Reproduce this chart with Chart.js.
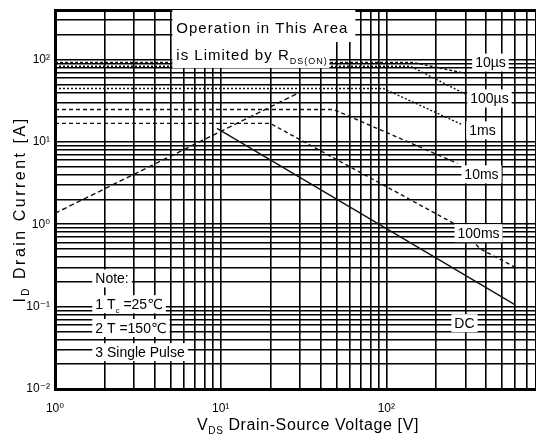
<!DOCTYPE html>
<html><head><meta charset="utf-8">
<script src="https://cdn.jsdelivr.net/npm/chart.js@4.4.1/dist/chart.umd.min.js"></script>
<style>html,body{margin:0;padding:0;background:#fff}#wrap{width:536px;height:444px;position:relative}</style>
</head><body><div id="wrap"><canvas id="c" width="536" height="444"></canvas></div>
<script>
// ---- data ----
const xTickValues = [1,2,3,4,5,6,7,8,9,10,20,30,40,50,60,70,80,90,100,200,300,400,500,600,700,800];
const yTickValues = [0.01,0.02,0.03,0.04,0.05,0.06,0.07,0.08,0.09,0.1,0.2,0.3,0.4,0.5,0.6,0.7,0.8,0.9,1,2,3,4,5,6,7,8,9,10,20,30,40,50,60,70,80,90,100,200,300,400];
const xTickLabels = {1:'10\u2070', 10:'10\u00B9', 100:'10\u00B2'};
const yTickLabels = {0.01:'10\u207B\u00B2', 0.1:'10\u207B\u00B9', 1:'10\u2070', 10:'10\u00B9', 100:'10\u00B2'};

const rdsOnV = [1, 30];          const rdsOnI = [1.36, 40];
const pulse10usV = [1, 146, 300];   const pulse10usI = [92, 92, 68];
const pulse100usV = [1, 140, 300];  const pulse100usI = [83, 83, 38];
const pulse1msV = [1, 96, 285];     const pulse1msI = [44.5, 44.5, 16.3];
const pulse10msV = [1, 48, 268];    const pulse10msI = [24.8, 24.8, 5.5];
const pulse100msV = [1, 19.9, 261, 370, 600]; const pulse100msI = [16.8, 16.8, 1.0, 0.5, 0.3];
const dcV = [9.5, 600];             const dcI = [14.6, 0.105];

const curveLabels = ['10\u00B5s','100\u00B5s','1ms','10ms','100ms','DC'];
const curveLabelV = [425, 419, 380, 375, 360, 296];
const curveLabelI = [92, 33.7, 13.8, 4.04, 0.78, 0.063];

const FONT = '"Liberation Sans", Arial, "DejaVu Sans", sans-serif';

function pts(xs, ys){ return xs.map((x,i)=>({x:x, y:ys[i]})); }
function ds(label, xs, ys, dash, width){
  return {label, data: pts(xs, ys), borderColor:'#111', borderWidth: width||1.4,
    borderDash: dash, pointRadius:0, fill:false, tension:0};
}

function richWidth(ctx, parts, size){
  let w = 0;
  for (const p of parts){ ctx.font = (p.sub ? Math.round(size*0.6) : size) + 'px ' + FONT; w += ctx.measureText(p.t).width; }
  return w;
}
function drawRich(ctx, parts, x, y, size, align){
  const w = richWidth(ctx, parts, size);
  let cx = align === 'center' ? x - w/2 : x;
  ctx.textBaseline = 'alphabetic';
  ctx.textAlign = 'left';
  for (const p of parts){
    ctx.font = (p.sub ? Math.round(size*0.6) : size) + 'px ' + FONT;
    ctx.fillText(p.t, cx, p.sub ? y + size*0.28 : y);
    cx += ctx.measureText(p.t).width;
  }
  return w;
}

const overlay = {
  id: 'overlay',
  afterDatasetsDraw(chart){
    const ctx = chart.ctx, xs = chart.scales.x, ys = chart.scales.y;
    ctx.save();
    ctx.fillStyle = '#000';
    // curve labels with white boxes
    ctx.font = '14px ' + FONT;
    curveLabels.forEach((t,i)=>{
      const px = xs.getPixelForValue(curveLabelV[i]), py = ys.getPixelForValue(curveLabelI[i]);
      const w = ctx.measureText(t).width;
      ctx.fillStyle = '#fff';
      ctx.fillRect(px - w/2 - 3, py - 9, w + 6, 18);
      ctx.fillStyle = '#000';
      ctx.textAlign = 'center'; ctx.textBaseline = 'middle';
      ctx.fillText(t, px, py + 1);
    });
    // "Operation in This Area / is Limited by RDS(ON)"
    const ox = xs.getPixelForValue(5.4), oTop = chart.chartArea.top;
    ctx.letterSpacing = '1px';
    ctx.fillStyle = '#fff';
    ctx.fillRect(ox - 4, oTop, 183, 32);
    ctx.fillRect(ox - 4, oTop + 32, 157, 26);
    ctx.fillStyle = '#000';
    drawRich(ctx, [{t:'Operation in This Area'}], ox, oTop + 23, 15, 'left');
    drawRich(ctx, [{t:'is Limited by R'},{t:'DS(ON)', sub:true}], ox, oTop + 50, 15, 'left');
    ctx.letterSpacing = '0px';
    // Note block
    const nx = xs.getPixelForValue(1.75);
    const notes = [
      [{t:'Note:'}],
      [{t:'1 T'},{t:'c',sub:true},{t:' =25\u2103'}],
      [{t:'2 T =150\u2103'}],
      [{t:'3 Single Pulse'}]
    ];
    const noteI = [0.22, 0.107, 0.055, 0.028];
    notes.forEach((parts,i)=>{
      const py = ys.getPixelForValue(noteI[i]);
      const w = richWidth(ctx, parts, 14);
      ctx.fillStyle = '#fff';
      ctx.fillRect(nx - 3, py - 9, w + 6, 18);
      ctx.fillStyle = '#000';
      drawRich(ctx, parts, nx, py + 5, 14, 'left');
    });
    ctx.restore();
  },
  afterDraw(chart){
    const ctx = chart.ctx, ca = chart.chartArea;
    ctx.save();
    ctx.fillStyle = '#000';
    ctx.letterSpacing = '2.5px';
    ctx.translate(ca.left - 36, (ca.top + ca.bottom)/2 + 10);
    ctx.rotate(-Math.PI/2);
    drawRich(ctx, [{t:'I'},{t:'D',sub:true},{t:' Drain Current [A]'}], 0, 6, 16, 'center');
    ctx.restore();
    ctx.save();
    ctx.fillStyle = '#000';
    ctx.letterSpacing = '0.6px';
    drawRich(ctx, [{t:'V'},{t:'DS',sub:true},{t:' Drain-Source Voltage [V]'}], 308, ca.bottom + 41, 16, 'center');
    ctx.restore();
  }
};

new Chart(document.getElementById('c'), {
  type: 'line',
  data: { datasets: [
    ds('RDS(on) limit', rdsOnV, rdsOnI, [5,3]),
    ds('10us', pulse10usV, pulse10usI, [3,2]),
    ds('100us', pulse100usV, pulse100usI, [2,2]),
    ds('1ms', pulse1msV, pulse1msI, [2,2]),
    ds('10ms', pulse10msV, pulse10msI, [4,3]),
    ds('100ms', pulse100msV, pulse100msI, [4,3]),
    ds('DC', dcV, dcI, [], 1.4)
  ]},
  plugins: [overlay],
  options: {
    responsive: false, animation: false, devicePixelRatio: 1,
    layout: { padding: { top: 10, right: 0, left: 0, bottom: 0 } },
    plugins: { legend: { display: false }, tooltip: { enabled: false } },
    scales: {
      x: {
        type: 'logarithmic', min: 1, max: 800,
        afterBuildTicks: s => { s.ticks = xTickValues.map(v => ({value: v})); },
        afterFit: s => { s.height = 55; s.paddingLeft = 0; s.paddingRight = 0; },
        ticks: { autoSkip: false, maxRotation: 0, padding: 12, color: '#000',
          font: { family: FONT, size: 12 },
          callback: v => xTickLabels[v] || '' },
        grid: { color: '#000', lineWidth: 1.6, drawTicks: false },
        border: { display: true, color: '#000', width: 3 }
      },
      y: {
        type: 'logarithmic', min: 0.01, max: 400,
        afterBuildTicks: s => { s.ticks = yTickValues.map(v => ({value: v})); },
        afterFit: s => { s.width = 55; s.paddingTop = 0; s.paddingBottom = 0; },
        ticks: { autoSkip: false, padding: 5, color: '#000',
          font: { family: FONT, size: 12 },
          callback: v => { const k = Object.keys(yTickLabels).find(q => Math.abs(+q - v) < v*1e-6); return k ? yTickLabels[k] : ''; } },
        grid: { color: '#000', lineWidth: c => (c.tick && c.tick.value === 400) ? 3 : 1.6, drawTicks: false },
        border: { display: true, color: '#000', width: 3 }
      }
    }
  }
});
</script></body></html>
